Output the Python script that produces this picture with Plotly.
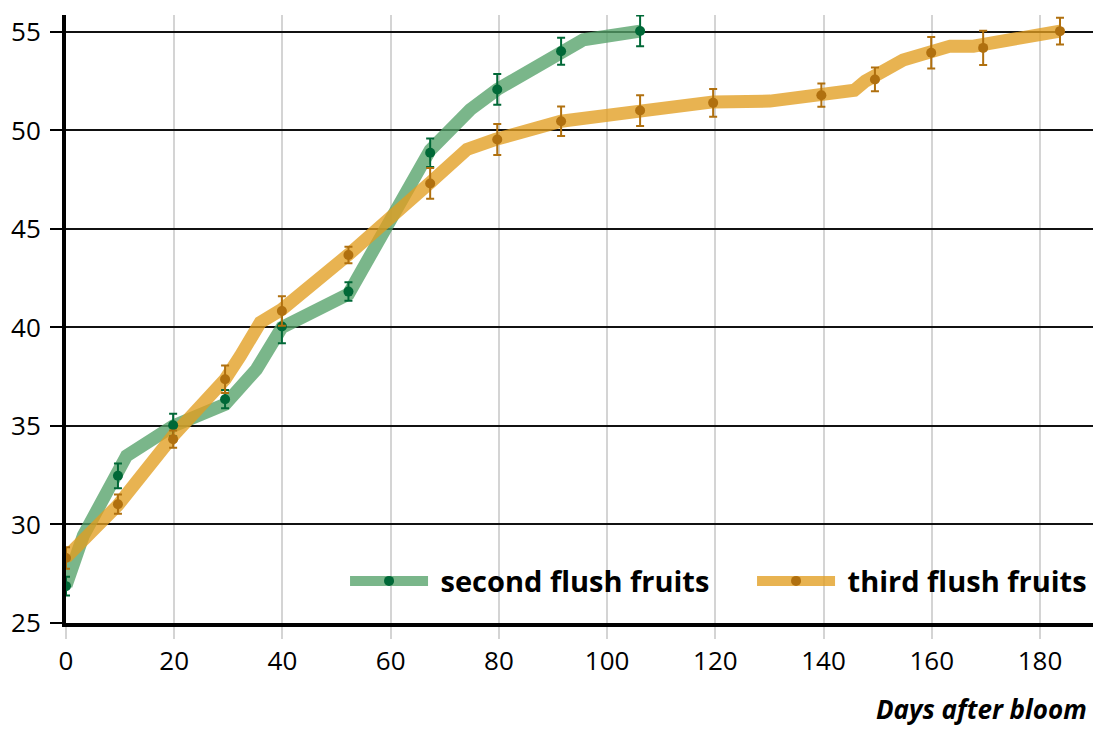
import plotly.graph_objects as go

# ---- data ----
days_pts = [0, 9.6, 19.8, 29.4, 39.9, 52.2, 67.3, 79.7, 91.5, 106.1]
second_vals = [26.87, 32.47, 35.04, 36.36, 40.05, 41.82, 48.87, 52.08, 54.02, 55.05]
second_err = [0.48, 0.63, 0.58, 0.46, 0.85, 0.47, 0.72, 0.78, 0.69, 0.78]

days_pts3 = [0, 9.6, 19.8, 29.4, 39.9, 52.2, 67.3, 79.7, 91.5, 106.1,
             119.6, 139.6, 149.5, 159.9, 169.5, 183.7]
third_vals = [28.3, 31.03, 34.33, 37.37, 40.84, 43.68, 47.31, 49.54, 50.47, 51.01,
              51.4, 51.79, 52.59, 53.94, 54.19, 55.04]
third_err = [0.55, 0.49, 0.44, 0.7, 0.75, 0.42, 0.78, 0.79, 0.75, 0.78,
             0.7, 0.59, 0.6, 0.8, 0.87, 0.68]

# smoothed growth bands
band2_days = [0, 3.2, 11.2, 19.8, 29.4, 35.2, 39.9, 52.2, 67.3, 74.7, 79.7, 91.5, 95.6, 106.1]
band2_vals = [26.9, 29.43, 33.49, 35.0, 36.1, 37.88, 40.0, 41.7, 49.0, 51.06, 52.08, 54.02, 54.6, 55.04]

band3_days = [0, 9.5, 19.8, 29.4, 32.2, 35.9, 39.9, 52.2, 67.3, 74.1, 79.3, 91.5, 106.1,
              119.6, 130.1, 139.6, 145.7, 147.7, 154.7, 163.4, 167.7, 183.7]
band3_vals = [28.33, 30.95, 34.5, 37.37, 38.55, 40.25, 40.92, 43.7, 47.35, 49.04, 49.54, 50.47, 50.98,
              51.45, 51.49, 51.79, 52.04, 52.5, 53.57, 54.28, 54.28, 55.04]

series_names = ["second flush fruits", "third flush fruits"]
x_ticks = [0, 20, 40, 60, 80, 100, 120, 140, 160, 180]
y_ticks = [25, 30, 35, 40, 45, 50, 55]
x_title = "Days after bloom"

# ---- styles ----
GREEN_BAND = "rgba(84,161,105,0.78)"
GREEN_DARK = "#006837"
ORANGE_BAND = "rgba(226,157,32,0.78)"
ORANGE_DARK = "#b0700f"
FONT = "Open Sans"

fig = go.Figure()

fig.add_trace(go.Scatter(x=band2_days, y=band2_vals, mode="lines",
                         line=dict(color=GREEN_BAND, width=13),
                         showlegend=False, hoverinfo="skip"))
fig.add_trace(go.Scatter(x=band3_days, y=band3_vals, mode="lines",
                         line=dict(color=ORANGE_BAND, width=13),
                         showlegend=False, hoverinfo="skip"))

fig.add_trace(go.Scatter(x=days_pts, y=second_vals, mode="markers",
                         marker=dict(color=GREEN_DARK, size=10),
                         error_y=dict(type="data", array=second_err, color=GREEN_DARK,
                                      thickness=2, width=4),
                         showlegend=False))
fig.add_trace(go.Scatter(x=days_pts3, y=third_vals, mode="markers",
                         marker=dict(color=ORANGE_DARK, size=10),
                         error_y=dict(type="data", array=third_err, color=ORANGE_DARK,
                                      thickness=2, width=4),
                         showlegend=False))

# legend entries (one legend box per series, placed like the reference)
for name, band, dark, lg in [(series_names[0], GREEN_BAND, GREEN_DARK, "legend"),
                             (series_names[1], ORANGE_BAND, ORANGE_DARK, "legend2")]:
    fig.add_trace(go.Scatter(x=[None], y=[None], mode="lines+markers", name="\u00a0" + name,
                             line=dict(color=band, width=13),
                             marker=dict(color=dark, size=10), legend=lg))

LEG_FONT = dict(family=FONT, size=29, weight="bold", color="black")
fig.update_layout(
    width=1093, height=729,
    margin=dict(l=66, r=0, t=15, b=105.5),
    paper_bgcolor="white", plot_bgcolor="white",
    font=dict(family=FONT, size=26, color="black"),
    showlegend=True,
    legend=dict(orientation="h", x=0.2717, xanchor="left", y=0.069, yanchor="middle",
                bgcolor="rgba(0,0,0,0)", itemwidth=78, font=LEG_FONT),
    legend2=dict(orientation="h", x=0.668, xanchor="left", y=0.069, yanchor="middle",
                 bgcolor="rgba(0,0,0,0)", itemwidth=78, font=LEG_FONT),
    annotations=[dict(text=x_title, xref="paper", yref="paper", x=1.0, y=-0.141,
                      xanchor="right", yanchor="middle", showarrow=False, xshift=-4,
                      font=dict(family=FONT, size=26, weight="bold", style="italic",
                                color="black"))],
)

fig.update_xaxes(range=[0, 189.8], tickvals=x_ticks, ticktext=[str(v) for v in x_ticks],
                 showgrid=True, gridcolor="#d4d4d4", gridwidth=1.5,
                 showline=True, linecolor="black", linewidth=4,
                 ticks="outside", ticklen=12, tickcolor="#d4d4d4", tickwidth=1.5,
                 zeroline=False, tickfont=dict(family=FONT, size=26))
fig.update_yaxes(range=[25, 55.86], tickvals=y_ticks, ticktext=[str(v) for v in y_ticks],
                 showgrid=True, gridcolor="#111111", gridwidth=1.5,
                 showline=True, linecolor="black", linewidth=4,
                 ticks="outside", ticklen=12, tickcolor="black", tickwidth=1.5,
                 ticklabelstandoff=4,
                 zeroline=False, tickfont=dict(family=FONT, size=26))

fig.write_html("out.html", config={"displayModeBar": False},
               post_script="document.body.style.margin='0';")
